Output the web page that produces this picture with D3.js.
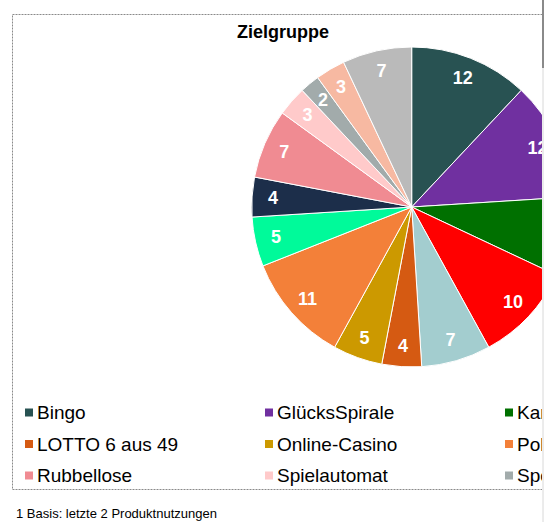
<!DOCTYPE html>
<html>
<head>
<meta charset="utf-8">
<script src="https://cdn.jsdelivr.net/npm/d3@7"></script>
<style>
  html, body { margin: 0; padding: 0; background: #fff; }
  svg { display: block; font-family: "Liberation Sans", Arial, sans-serif; }
</style>
</head>
<body>
<svg id="chart" width="546" height="522"></svg>
<script>
// ---- data ----
const title = "Zielgruppe";
const categories = ["Bingo", "GlücksSpirale", "Kartenspiele", "Keno", "Klassenlotterie",
  "LOTTO 6 aus 49", "Online-Casino", "Poker", "PS-Lotterie", "Roulette",
  "Rubbellose", "Spielautomat", "Sportwetten", "Super 6", "TOTO"];
const values = [12, 12, 8, 10, 7, 4, 5, 11, 5, 4, 7, 3, 2, 3, 7];
const colors = ["#285252", "#7030A0", "#007000", "#FF0000", "#A3CDCF",
  "#D55A12", "#CC9900", "#F38039", "#00FA9A", "#1C2E4A",
  "#F08B92", "#FFCACA", "#A2ABAB", "#F7B9A2", "#BABABA"];
const footnote = "1 Basis: letzte 2 Produktnutzungen";

// ---- layout ----
const W = 546;
const svg = d3.select("#chart");
const cx = 411.7, cy = 207, R = 160, labelR = 139;

svg.append("defs").append("clipPath").attr("id", "clip")
  .append("rect").attr("x", 0).attr("y", 0).attr("width", 542).attr("height", 522);

const g = svg.append("g").attr("clip-path", "url(#clip)");

// frame
g.append("rect")
  .attr("x", 12.5).attr("y", 14.5).attr("width", 560).attr("height", 475)
  .attr("fill", "none").attr("stroke", "#8a8a8a").attr("stroke-width", 1)
  .attr("stroke-dasharray", "2,1");

// title
g.append("text").attr("x", 283).attr("y", 38).attr("text-anchor", "middle")
  .attr("font-size", 18).attr("font-weight", "bold").attr("fill", "#000").text(title);

// pie
const pie = d3.pie().sort(null).value(d => d.v);
const data = pie(values.map((v, i) => ({ v, c: categories[i], col: colors[i] })));
const arc = d3.arc().innerRadius(0).outerRadius(R);
const labelArc = d3.arc().innerRadius(labelR).outerRadius(labelR);

const pg = g.append("g").attr("transform", `translate(${cx},${cy})`);
pg.selectAll("path").data(data).join("path")
  .attr("d", arc).attr("fill", d => d.data.col)
  .attr("stroke", "#fff").attr("stroke-width", 1);

pg.selectAll("text").data(data).join("text")
  .attr("transform", d => `translate(${labelArc.centroid(d)})`)
  .attr("text-anchor", "middle").attr("dominant-baseline", "central")
  .attr("font-size", 18).attr("font-weight", "bold").attr("fill", "#fff")
  .text(d => d.data.v);

// legend (5 columns, row-major; columns beyond the visible page are not drawn)
const colX = d3.scaleLinear().domain([0, 1]).range([25, 265]);
const rowY = d3.scaleLinear().domain([0, 1]).range([412.5, 444]);
const lg = g.append("g");
categories.forEach((c, i) => {
  const col = i % 5, row = Math.floor(i / 5);
  const x = colX(col), y = rowY(row);
  if (x > W) return;
  lg.append("rect").attr("x", x).attr("y", y - 4).attr("width", 8).attr("height", 8)
    .attr("fill", colors[i]);
  lg.append("text").attr("x", x + 12).attr("y", y).attr("dominant-baseline", "central")
    .attr("font-size", 19).attr("fill", "#000").text(c);
});

// footnote
g.append("text").attr("x", 16).attr("y", 517.5).attr("font-size", 13)
  .attr("fill", "#000").text(footnote);

// right edge line
svg.append("line").attr("x1", 543).attr("x2", 543).attr("y1", 0).attr("y2", 522)
  .attr("stroke", "#d8d8d8").attr("stroke-width", 1);
svg.append("line").attr("x1", 543).attr("x2", 543).attr("y1", 0).attr("y2", 68)
  .attr("stroke", "#8a8a8a").attr("stroke-width", 2);
</script>
</body>
</html>
